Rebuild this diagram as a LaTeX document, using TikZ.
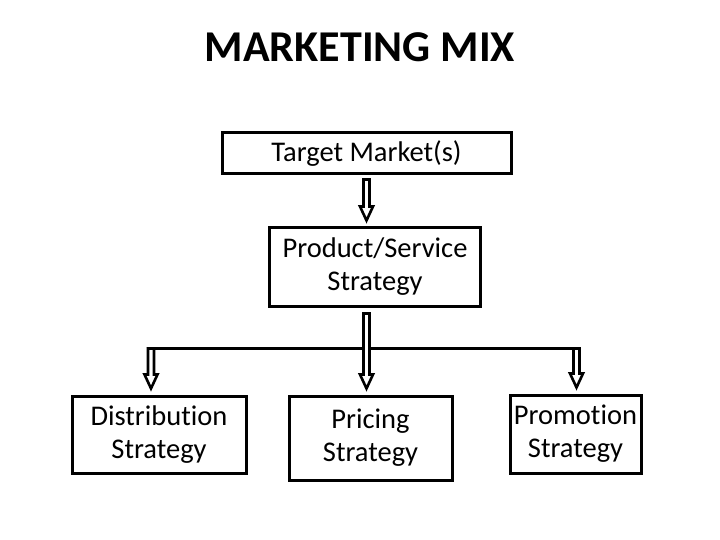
\documentclass[tikz,border=0pt]{standalone}
\usepackage{fontspec}
\setmainfont{Carlito}[Ligatures=NoCommon]
\usetikzlibrary{calc}

% hollow block arrow straight down from #2 to #3, #1 = gap at the start
\newcommand{\hollowarrow}[3][4pt]{%
  \path[hollow] let \p1=(#2), \p2=(#3) in
    (\x1-3pt,\y1-#1) -- (\x1-3pt,\y2+20pt) -- (\x1-6.5pt,\y2+20pt)
    -- (\x1,\y2+6pt) -- (\x1+6.5pt,\y2+20pt) -- (\x1+3pt,\y2+20pt)
    -- (\x1+3pt,\y1-#1) -- cycle;}

\begin{document}
\begin{tikzpicture}[
  x=1pt, y=-1pt,
  box/.style={draw, line width=3pt, inner sep=0pt, align=center,
    font=\fontsize{28.5}{33}\selectfont},
  hollow/.style={draw, fill=white, line width=2.6pt},
  bus/.style={draw, line width=3pt},
  title/.style={font=\fontsize{44}{50}\selectfont\bfseries}
]
\useasboundingbox (0,0) rectangle (720,540);

\node[title] (mix) at (360,47) {MARKETING MIX};

\node[box, minimum width=289pt, minimum height=41pt] (tm) at (366.5,153.5) {Target Market(s)};
\node[box, minimum width=211pt, minimum height=78pt] (ps) at (375,267) {Product/Service\\Strategy};

\node[box, minimum width=174pt, minimum height=77pt] (ds) at (159,434.5) {Distribution\\Strategy};
\node[box, minimum width=163pt, minimum height=84pt] (pr) at (370.5,438) {Pricing\\Strategy};
\node[box, minimum width=131pt, minimum height=78pt] (pm) at (575.5,434) {Promotion\\Strategy};

% branch bar
\coordinate (busL) at (151,348.5);
\coordinate (busR) at (576.5,348.5);
\draw[bus] ([xshift=-4.5pt]busL) -- ([xshift=4.5pt]busR);

\hollowarrow{tm.south}{ps.north}
\hollowarrow[0pt]{busL}{ds.north}
\hollowarrow[0pt]{busR}{pm.north}
\hollowarrow[6pt]{tm.south |- ps.south}{pr.north}
\end{tikzpicture}
\end{document}
